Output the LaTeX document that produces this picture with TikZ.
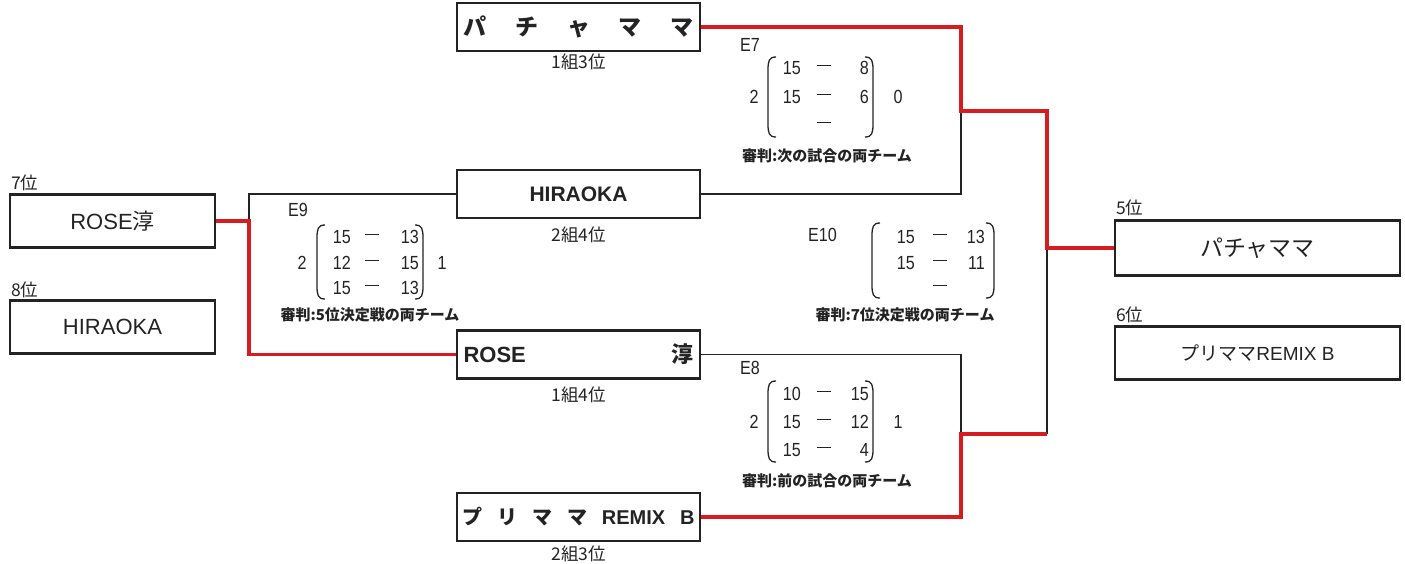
\documentclass[tikz,border=0pt]{standalone}
\usepackage{fontspec}
\setmainfont{Liberation Sans}
\newfontfamily\jp{Noto Sans CJK JP}
\newfontfamily\nar{Liberation Sans}[FakeStretch=0.85]
\definecolor{bred}{RGB}{214,28,32}
\definecolor{ink}{RGB}{35,35,35}
\newcommand\mylp[3]{\draw[paren] (#1+8,#2) .. controls (#1+1,#2) and (#1,#2+4) .. (#1,#2+13) -- (#1,#3-13) .. controls (#1,#3-4) and (#1+1,#3) .. (#1+8,#3);}
\newcommand\myrp[3]{\draw[paren] (#1-8,#2) .. controls (#1-1,#2) and (#1,#2+4) .. (#1,#2+13) -- (#1,#3-13) .. controls (#1,#3-4) and (#1-1,#3) .. (#1-8,#3);}
\newcommand\dsh{\rule[5pt]{14pt}{1.4pt}}
\tikzset{
  box/.style={draw=ink, line width=2.2pt, inner sep=0pt, text=ink},
  midbox/.style={box, minimum width=243pt, minimum height=48pt},
  sidebox/.style={box, minimum height=53pt},
  wl/.style={draw=ink, line width=1.3pt},
  rl/.style={draw=bred, line width=3.6pt},
  paren/.style={draw=ink, line width=1.3pt},
  sc/.style={inner sep=0pt, text=ink, font=\nar\fontsize{19}{19}\selectfont},
  lab/.style={inner sep=0pt, text=ink, font=\jp\fontsize{17.5}{17.5}\selectfont},
  judge/.style={inner sep=0pt, text=ink, font=\jp\bfseries\fontsize{15}{15}\selectfont}
}
\begin{document}
\begin{tikzpicture}[x=1pt,y=-1pt]
\useasboundingbox (0,0) rectangle (1405,563);
% middle boxes
\node[midbox, font=\fontsize{23}{23}\selectfont] (A) at (578.5,27) {\makebox[230pt]{\jp\bfseries パ\hfill チ\hfill ャ\hfill マ\hfill マ}};
\node[lab] at (578.5,62) {1組3位};
\node[midbox, font=\bfseries\fontsize{21}{21}\selectfont] (B) at (578.5,194) {HIRAOKA};
\node[lab] at (578.5,235) {2組4位};
\node[midbox, font=\fontsize{22}{22}\selectfont] (C) at (578.5,354.5) {\makebox[230pt]{\bfseries ROSE\hfill{\jp\bfseries 淳}}};
\node[lab] at (578.5,395) {1組4位};
\node[midbox, font=\fontsize{20}{20}\selectfont] (D) at (578.5,517) {\makebox[232pt]{\bfseries{\jp\bfseries プ}\hfill{\jp\bfseries リ}\hfill{\jp\bfseries マ}\hfill{\jp\bfseries マ}\hfill REMIX\hfill B}};
\node[lab] at (578.5,554) {2組3位};
% left result boxes
\node[sidebox, minimum width=205pt, font=\fontsize{22}{22}\selectfont] (L1) at (112.5,221) {ROSE{\jp 淳}};
\node[lab, anchor=west] at (11,183) {7位};
\node[sidebox, minimum width=205pt, font=\fontsize{22}{22}\selectfont] (L2) at (112.5,327) {HIRAOKA};
\node[lab, anchor=west] at (11,290) {8位};
% right result boxes
\node[sidebox, minimum width=285pt, minimum height=55pt, font=\jp\fontsize{23}{23}\selectfont] (R1) at (1257.5,248) {パチャママ};
\node[lab, anchor=west] at (1116,208) {5位};
\node[sidebox, minimum width=285pt, font=\fontsize{19}{19}\selectfont] (R2) at (1257.5,353) {{\jp プリママ}REMIX B};
\node[lab, anchor=west] at (1116,315) {6位};
% junctions
\coordinate (j1) at (961,111);
\coordinate (j2) at (1047,111);
\coordinate (j3) at (961,434);
\coordinate (j4) at (1047,434);
\coordinate (k1) at (249,221);
% connectors
\draw[wl] (B.east) -| (j1);
\draw[wl] (C.east) -| (j3);
\draw[wl] (j4) |- (R1.west);
\draw[wl] (B.west) -| (k1);
\draw[rl] (A.east) -| (j1) -- (j2) |- (R1.west);
\draw[rl] (D.east) -| (j3) -- (j4);
\draw[rl] (L1.east) -- (k1) |- (C.west);
% E7
\node[sc, anchor=west] (e7) at (740,45) {E7};
\node[sc] (e7l) at (754,97) {2};
\node[sc] (e7r) at (898,97) {0};
\node[sc, anchor=east] at (801,68) {15};
\node[sc] at (824,68) {\dsh};
\node[sc, anchor=east] at (869,68) {8};
\node[sc, anchor=east] at (801,97) {15};
\node[sc] at (824,97) {\dsh};
\node[sc, anchor=east] at (869,97) {6};
\node[sc] at (824,125) {\dsh};
\mylp{768}{57}{137}
\myrp{873}{57}{137}
\node[judge] (e7j) at (827,156) {審判:次の試合の両チーム};
% E9
\node[sc, anchor=west] (e9) at (288,210) {E9};
\node[sc] (e9l) at (302,263) {2};
\node[sc] (e9r) at (442,263) {1};
\node[sc, anchor=east] at (351,237) {15};
\node[sc] at (372,237) {\dsh};
\node[sc, anchor=east] at (419,237) {13};
\node[sc, anchor=east] at (351,263) {12};
\node[sc] at (372,263) {\dsh};
\node[sc, anchor=east] at (419,263) {15};
\node[sc, anchor=east] at (351,288) {15};
\node[sc] at (372,288) {\dsh};
\node[sc, anchor=east] at (419,288) {13};
\mylp{317}{225}{299}
\myrp{423}{225}{299}
\node[judge] (e9j) at (370,315) {審判:5位決定戦の両チーム};
% E10
\node[sc, anchor=west] (e10) at (808,235) {E10};
\node[sc, anchor=east] at (915,237) {15};
\node[sc] at (940,237) {\dsh};
\node[sc, anchor=east] at (985,237) {13};
\node[sc, anchor=east] at (915,263) {15};
\node[sc] at (940,263) {\dsh};
\node[sc, anchor=east] at (985,263) {11};
\node[sc] at (940,288) {\dsh};
\mylp{872}{223}{298}
\myrp{994}{223}{298}
\node[judge] (e10j) at (905,315) {審判:7位決定戦の両チーム};
% E8
\node[sc, anchor=west] (e8) at (740,368) {E8};
\node[sc] (e8l) at (754,422) {2};
\node[sc] (e8r) at (898,422) {1};
\node[sc, anchor=east] at (801,394) {10};
\node[sc] at (824,394) {\dsh};
\node[sc, anchor=east] at (869,394) {15};
\node[sc, anchor=east] at (801,422) {15};
\node[sc] at (824,422) {\dsh};
\node[sc, anchor=east] at (869,422) {12};
\node[sc, anchor=east] at (801,450) {15};
\node[sc] at (824,450) {\dsh};
\node[sc, anchor=east] at (869,450) {4};
\mylp{768}{381}{462}
\myrp{873}{381}{462}
\node[judge] (e8j) at (827,481) {審判:前の試合の両チーム};
\end{tikzpicture}
\end{document}
